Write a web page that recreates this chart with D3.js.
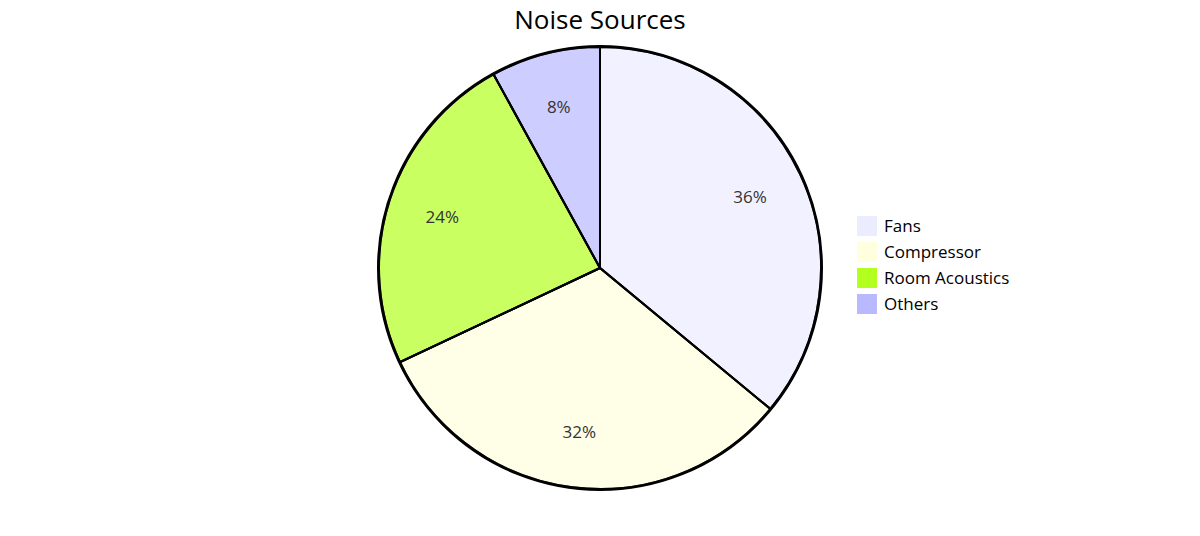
<!DOCTYPE html>
<html><head><meta charset="utf-8">
<script src="https://cdn.jsdelivr.net/npm/d3@7"></script>
<style>body{margin:0;background:#fff;font-family:"Open Sans",sans-serif;}</style>
</head><body>
<svg width="1200" height="536"></svg>
<script>
let labels = ['Fans', 'Compressor', 'Room Acoustics', 'Others'];
let values = [36, 32, 24, 8];
let colors = ['#ececff', '#ffffde', '#b3ff1f', '#b9b9ff'];

let svg = d3.select('svg');
let cx = 600, cy = 268, r = 221;

svg.append('text').attr('x', 600).attr('y', 29).attr('text-anchor', 'middle')
	.style('font-size', '26px').style('fill', '#000').text('Noise Sources');

let total = d3.sum(values);
let pie = d3.pie().sort(null)(values);
let arc = d3.arc().innerRadius(0).outerRadius(r);
let labelArc = d3.arc().innerRadius(r * 0.75).outerRadius(r * 0.75);

let g = svg.append('g').attr('transform', 'translate(' + cx + ',' + cy + ')');
g.append('circle').attr('r', r + 1).style('fill', 'none').style('stroke', '#000').style('stroke-width', 2);
g.selectAll('path').data(pie).join('path')
	.attr('d', arc)
	.style('fill', (d, i) => colors[i])
	.style('opacity', 0.7)
	.style('stroke', '#000').style('stroke-width', 2);
g.selectAll('path.edge').data(pie).join('path')
	.attr('d', arc)
	.style('fill', 'none')
	.style('stroke', '#000').style('stroke-width', 2);
g.selectAll('text').data(pie).join('text')
	.attr('transform', d => 'translate(' + labelArc.centroid(d) + ')')
	.attr('text-anchor', 'middle').attr('dy', '0.35em')
	.style('font-size', '17px').style('fill', '#333')
	.text(d => Math.round(d.data / total * 100) + '%');

let leg = svg.append('g').attr('transform', 'translate(857, 216)');
leg.selectAll('rect').data(labels).join('rect')
	.attr('x', 0).attr('y', (d, i) => i * 26)
	.attr('width', 20).attr('height', 20)
	.style('fill', (d, i) => colors[i]);
leg.selectAll('text').data(labels).join('text')
	.attr('x', 27).attr('y', (d, i) => i * 26 + 10).attr('dy', '0.35em')
	.style('font-size', '17px').style('fill', '#000')
	.text(d => d);
</script>
</body></html>
